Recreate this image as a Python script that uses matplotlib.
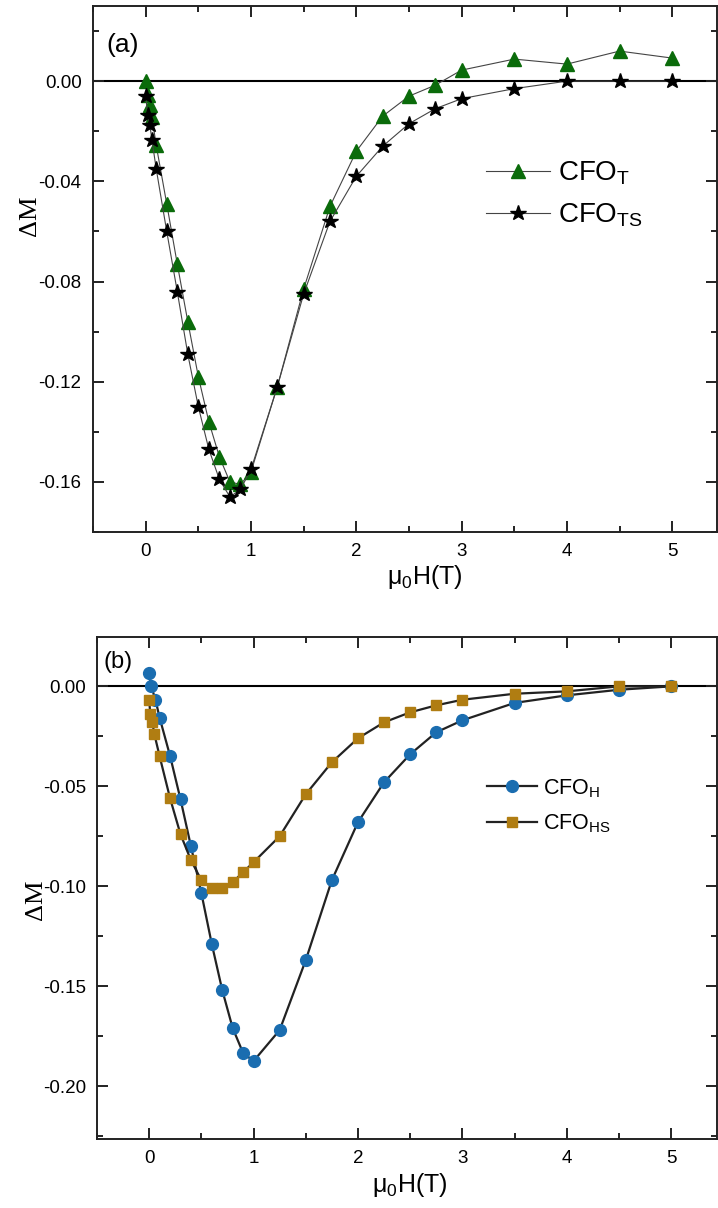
import matplotlib
matplotlib.use("Agg")
import matplotlib.pyplot as plt
from matplotlib.ticker import MultipleLocator

plt.rcParams['font.family'] = ['Liberation Sans', 'DejaVu Sans']
plt.rcParams['mathtext.fontset'] = 'custom'
plt.rcParams['mathtext.rm'] = 'Liberation Sans'
plt.rcParams['mathtext.it'] = 'Liberation Sans:italic'

# ---- Panel (a) data ----
xa_t = [0, 0.02, 0.04, 0.06, 0.1, 0.2, 0.3, 0.4, 0.5, 0.6, 0.7, 0.8, 0.9, 1.0,
        1.25, 1.5, 1.75, 2.0, 2.25, 2.5, 2.75, 3.0, 3.5, 4.0, 4.5, 5.0]
ya_t = [0.0, -0.0056, -0.0096, -0.0144, -0.0256, -0.049, -0.073, -0.096, -0.118,
        -0.136, -0.150, -0.160, -0.161, -0.156, -0.122, -0.083, -0.050, -0.028,
        -0.014, -0.006, -0.0016, 0.0044, 0.0088, 0.0068, 0.012, 0.0092]
xa_ts = [0, 0.02, 0.04, 0.06, 0.1, 0.2, 0.3, 0.4, 0.5, 0.6, 0.7, 0.8, 0.9, 1.0,
         1.25, 1.5, 1.75, 2.0, 2.25, 2.5, 2.75, 3.0, 3.5, 4.0, 4.5, 5.0]
ya_ts = [-0.006, -0.0136, -0.0176, -0.0236, -0.035, -0.060, -0.084, -0.109, -0.130,
         -0.147, -0.159, -0.166, -0.163, -0.155, -0.122, -0.085, -0.056, -0.038,
         -0.026, -0.017, -0.011, -0.007, -0.003, 0.0, 0.0, 0.0]

# ---- Panel (b) data ----
xb_h = [0, 0.02, 0.06, 0.1, 0.2, 0.3, 0.4, 0.5, 0.6, 0.7, 0.8, 0.9, 1.0,
        1.25, 1.5, 1.75, 2.0, 2.25, 2.5, 2.75, 3.0, 3.5, 4.0, 4.5, 5.0]
yb_h = [0.0065, 0.0, -0.0067, -0.0157, -0.0348, -0.0565, -0.080, -0.1035, -0.129,
        -0.152, -0.171, -0.1835, -0.1875, -0.172, -0.137, -0.097, -0.068, -0.048,
        -0.034, -0.023, -0.017, -0.0083, -0.0045, -0.0017, 0.0]
xb_hs = [0, 0.01, 0.03, 0.05, 0.1, 0.2, 0.3, 0.4, 0.5, 0.6, 0.7, 0.8, 0.9, 1.0,
         1.25, 1.5, 1.75, 2.0, 2.25, 2.5, 2.75, 3.0, 3.5, 4.0, 4.5, 5.0]
yb_hs = [-0.0067, -0.0137, -0.018, -0.024, -0.035, -0.056, -0.074, -0.087, -0.097,
         -0.101, -0.101, -0.098, -0.093, -0.088, -0.075, -0.054, -0.038, -0.026,
         -0.018, -0.013, -0.0095, -0.0067, -0.0037, -0.0025, 0.0, 0.0]

W, H = 718, 1208
fig = plt.figure(figsize=(W / 100, H / 100), dpi=100)

def px_axes(l, t, r, b):
    return fig.add_axes([l / W, 1 - b / H, (r - l) / W, (b - t) / H])

ax1 = px_axes(92.7, 6, 717, 532)
ax2 = px_axes(97, 637, 717, 1139)

def style(ax, ymaj, ymin):
    for s in ax.spines.values():
        s.set_linewidth(1.4)
        s.set_color('#222222')
    ax.xaxis.set_major_locator(MultipleLocator(1))
    ax.xaxis.set_minor_locator(MultipleLocator(0.5))
    ax.yaxis.set_major_locator(MultipleLocator(ymaj))
    ax.yaxis.set_minor_locator(MultipleLocator(ymin))
    ax.tick_params(which='both', direction='in', top=True, right=True,
                   width=1.4, color='#222222')
    ax.tick_params(which='major', length=8, labelsize=13.5, pad=8)
    ax.tick_params(which='minor', length=4.5)
    ax.axhline(0, color='black', lw=1.5, zorder=1)

# ---- Panel (a) ----
style(ax1, 0.04, 0.02)
ax1.set_xlim(-0.503, 5.425)
ax1.set_ylim(-0.18, 0.03)
ax1.yaxis.set_major_formatter(matplotlib.ticker.FormatStrFormatter('%.2f'))
ax1.plot(xa_t, ya_t, '-', color='#444444', lw=0.8, marker='^', ms=10,
         mfc='#0a6b0a', mec='#0a6b0a', label='CFO$_\\mathrm{T}$', zorder=3)
ax1.plot(xa_ts, ya_ts, '-', color='#444444', lw=0.8, marker='*', ms=11.5,
         mfc='black', mec='black', label='CFO$_\\mathrm{TS}$', zorder=4)
ax1.legend(loc='upper left', bbox_to_anchor=((486 - 92.7) / (717 - 92.7), 1 - (160 - 6) / 526),
           frameon=False, fontsize=20, handlelength=2.3, handletextpad=0.3,
           labelspacing=0.5, borderpad=0, borderaxespad=0)
fig.text(123 / W, 1 - 45 / H, '(a)', fontsize=19, ha='center', va='center')
fig.text(30 / W, 1 - 216 / H, 'ΔM', fontsize=19, rotation=90, ha='center', va='center',
         family=['Liberation Serif', 'DejaVu Serif'])
fig.text(425 / W, 1 - 577 / H, 'μ$_0$H(T)', fontsize=18, ha='center', va='center')

# ---- Panel (b) ----
style(ax2, 0.05, 0.025)
ax2.set_xlim(-0.50, 5.44)
ax2.set_ylim(-0.2265, 0.0247)
ax2.yaxis.set_major_formatter(matplotlib.ticker.FormatStrFormatter('%.2f'))
ax2.plot(xb_h, yb_h, '-', color='#222222', lw=1.6, marker='o', ms=8.5,
         mfc='#1a6db0', mec='#1a6db0', label='CFO$_\\mathrm{H}$', zorder=3)
ax2.plot(xb_hs, yb_hs, '-', color='#222222', lw=1.6, marker='s', ms=7.5,
         mfc='#b07d12', mec='#b07d12', label='CFO$_\\mathrm{HS}$', zorder=4)
ax2.legend(loc='upper left', bbox_to_anchor=((487 - 97) / (717 - 97), 1 - (777 - 637) / 502),
           frameon=False, fontsize=15.5, handlelength=2.3, handletextpad=0.3,
           labelspacing=0.6, borderpad=0, borderaxespad=0)
fig.text(118 / W, 1 - 662 / H, '(b)', fontsize=17, ha='center', va='center')
fig.text(36 / W, 1 - 900 / H, 'ΔM', fontsize=19, rotation=90, ha='center', va='center',
         family=['Liberation Serif', 'DejaVu Serif'])
fig.text(410 / W, 1 - 1185 / H, 'μ$_0$H(T)', fontsize=18, ha='center', va='center')

fig.savefig('out.png', dpi=100)
